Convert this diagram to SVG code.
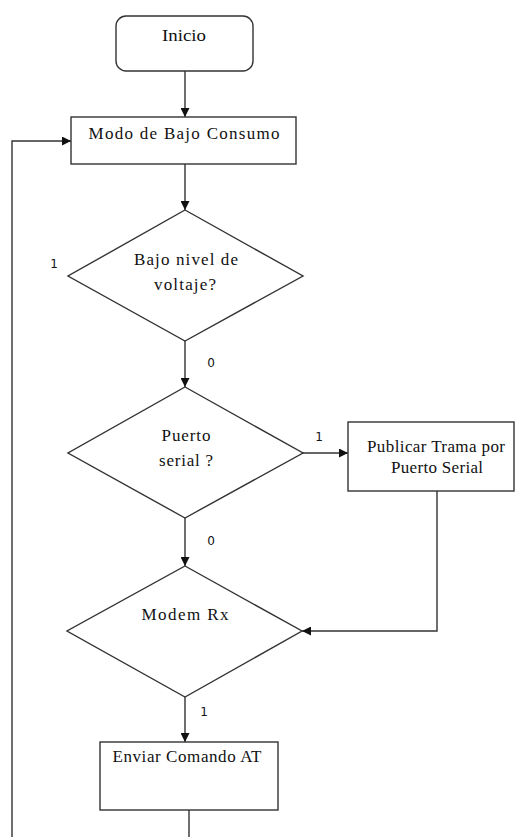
<svg xmlns="http://www.w3.org/2000/svg" width="516" height="837" viewBox="0 0 516 837">
<style>
.shape{fill:#fff;stroke:#333;stroke-width:1.4}
.line{fill:none;stroke:#333;stroke-width:1.4}
.t{font-size:17px;fill:#111;text-anchor:middle}
.lbl{font-size:12px;fill:#111;text-anchor:middle}
</style>
<defs>
<marker id="ah" markerWidth="9" markerHeight="9" refX="9" refY="4.5" orient="auto" markerUnits="userSpaceOnUse">
<path d="M0,0 L9,4.5 L0,9 z" fill="#111"/>
</marker>
</defs>
<rect width="516" height="837" fill="#fff"/>
<g id="connectors" font-family="DejaVu Sans, sans-serif">
<line class="line" x1="185" y1="71" x2="185" y2="117" marker-end="url(#ah)"/>
<line class="line" x1="185" y1="164" x2="185" y2="210" marker-end="url(#ah)"/>
<line class="line" x1="185" y1="341" x2="185" y2="387" marker-end="url(#ah)"/>
<line class="line" x1="185" y1="518" x2="185" y2="566" marker-end="url(#ah)"/>
<line class="line" x1="185" y1="697" x2="185" y2="742" marker-end="url(#ah)"/>
<line class="line" x1="303" y1="453" x2="348" y2="453" marker-end="url(#ah)"/>
<polyline class="line" points="437,491 437,631 302,631" marker-end="url(#ah)"/>
<line class="line" x1="189" y1="810" x2="189" y2="837"/>
<polyline class="line" points="12,837 12,141 71,141" marker-end="url(#ah)"/>
<text class="lbl" x="54" y="268">1</text>
<text class="lbl" x="211" y="367">0</text>
<text class="lbl" x="319" y="441">1</text>
<text class="lbl" x="211" y="545">0</text>
<text class="lbl" x="204" y="716">1</text>
</g>
<g font-family="Liberation Serif, Times New Roman, serif">
<g id="inicio">
<rect class="shape" x="116" y="16" width="137" height="55" rx="10" ry="10"/>
<text class="t" x="184" y="41" textLength="44" lengthAdjust="spacingAndGlyphs">Inicio</text>
</g>
<g id="modo">
<rect class="shape" x="71" y="117" width="225" height="47"/>
<text class="t" x="184" y="139" textLength="191" lengthAdjust="spacing">Modo de Bajo Consumo</text>
</g>
<g id="voltaje">
<polygon class="shape" points="185,210 303,276 185,341 68,276"/>
<text class="t" x="186" y="265" textLength="104" lengthAdjust="spacing">Bajo nivel de</text>
<text class="t" x="185" y="290" textLength="62" lengthAdjust="spacing">voltaje?</text>
</g>
<g id="puerto">
<polygon class="shape" points="185,387 303,453 185,518 68,453"/>
<text class="t" x="186" y="441" textLength="49" lengthAdjust="spacing">Puerto</text>
<text class="t" x="186" y="466" textLength="54" lengthAdjust="spacing">serial ?</text>
</g>
<g id="publicar">
<rect class="shape" x="348" y="422" width="166" height="69"/>
<text class="t" x="436" y="452" textLength="138" lengthAdjust="spacing">Publicar Trama por</text>
<text class="t" x="437" y="473" textLength="92" lengthAdjust="spacing">Puerto Serial</text>
</g>
<g id="modem">
<polygon class="shape" points="185,566 302,631 185,697 67,631"/>
<text class="t" x="185" y="620" textLength="87" lengthAdjust="spacing">Modem Rx</text>
</g>
<g id="enviar">
<rect class="shape" x="100" y="742" width="178" height="68"/>
<text class="t" x="187" y="762" textLength="149" lengthAdjust="spacing">Enviar Comando AT</text>
</g>
</g>
</svg>
